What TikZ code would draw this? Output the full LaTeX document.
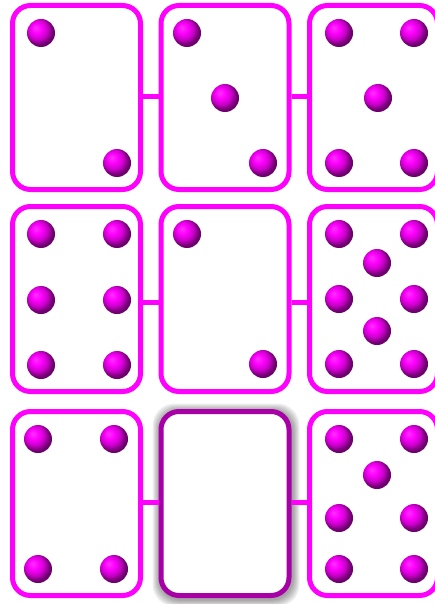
\documentclass[tikz,border=0pt]{standalone}
\definecolor{cardmag}{RGB}{255,0,255}
\definecolor{cardpurple}{RGB}{166,0,166}
\pgfdeclareradialshading{magball}{\pgfpoint{-10bp}{10bp}}{%
  color(0bp)=(cardmag!80!white);
  color(9bp)=(cardmag);
  color(18bp)=(cardmag!78!black);
  color(25bp)=(cardmag!45!black);
  color(50bp)=(cardmag!25!black)}
\tikzset{
  card/.style={draw=cardmag, line width=5pt, fill=white, rounded corners=18pt,
    rectangle, minimum width=128pt, minimum height=184pt, inner sep=0pt},
  blankcard/.style={card, draw=cardpurple},
  ball/.style={circle, minimum size=28pt, inner sep=0pt, shading=magball},
  link/.style={draw=cardmag, line width=5pt},
  shadowlayer/.style={fill=black, opacity=0.06, rounded corners=22pt}
}
\begin{document}
\begin{tikzpicture}[x=1pt,y=-1pt]
\useasboundingbox (0,0) rectangle (435,604);
% shadow of the blank card
\foreach \k in {1,...,7}{
  \fill[shadowlayer] (226-66.5-\k,505-94.5-\k) rectangle (226+66.5+\k,505+94.5+\k);
}
% cards
\node[card] (c11) at (76.5,97.5) {};
\node[card] (c12) at (225,97.5) {};
\node[card] (c13) at (373.5,97.5) {};
\node[card, minimum height=185pt] (c21) at (76.5,299) {};
\node[card, minimum height=185pt] (c22) at (225,299) {};
\node[card, minimum height=185pt] (c23) at (373.5,299) {};
\node[card] (c31) at (76.5,503.5) {};
\node[blankcard] (c32) at (225,503.5) {};
\node[card] (c33) at (373.5,503.5) {};
% connectors
\draw[link] ([yshift=0.5pt]c11.east) -- ([yshift=0.5pt]c12.west);
\draw[link] ([yshift=0.5pt]c12.east) -- ([yshift=0.5pt]c13.west);
\draw[link] ([yshift=-3.5pt]c21.east) -- ([yshift=-3.5pt]c22.west);
\draw[link] ([yshift=-3.5pt]c22.east) -- ([yshift=-3.5pt]c23.west);
\draw[link] ([yshift=1.5pt]c31.east) -- ([yshift=1.5pt]c32.west);
\draw[link] ([yshift=1.5pt]c32.east) -- ([yshift=1.5pt]c33.west);
% balls row 1
\node[ball] (b1a) at (41,33) {};
\node[ball] (b1b) at (117,163) {};
\node[ball] (b2a) at (187,33) {};
\node[ball] (b2b) at (225,98) {};
\node[ball] (b2c) at (263,163) {};
\node[ball] (b3a) at (339,33) {};
\node[ball] (b3b) at (414,33) {};
\node[ball] (b3c) at (378,98) {};
\node[ball] (b3d) at (339,163) {};
\node[ball] (b3e) at (414,163) {};
% balls row 2
\node[ball] (b4a) at (41,234) {};
\node[ball] (b4b) at (117,234) {};
\node[ball] (b4c) at (41,300) {};
\node[ball] (b4d) at (117,300) {};
\node[ball] (b4e) at (41,365) {};
\node[ball] (b4f) at (117,365) {};
\node[ball] (b5a) at (187,234) {};
\node[ball] (b5b) at (263,364) {};
\node[ball] (b6a) at (339,234) {};
\node[ball] (b6b) at (414,234) {};
\node[ball] (b6c) at (377,263) {};
\node[ball] (b6d) at (339,299) {};
\node[ball] (b6e) at (414,299) {};
\node[ball] (b6f) at (377,331) {};
\node[ball] (b6g) at (339,364) {};
\node[ball] (b6h) at (414,364) {};
% balls row 3
\node[ball] (b7a) at (38,439) {};
\node[ball] (b7b) at (114,439) {};
\node[ball] (b7c) at (38,569) {};
\node[ball] (b7d) at (114,569) {};
\node[ball] (b9a) at (339,439) {};
\node[ball] (b9b) at (414,439) {};
\node[ball] (b9c) at (377,475) {};
\node[ball] (b9d) at (339,518) {};
\node[ball] (b9e) at (414,518) {};
\node[ball] (b9f) at (339,569) {};
\node[ball] (b9g) at (414,569) {};
\end{tikzpicture}
\end{document}
